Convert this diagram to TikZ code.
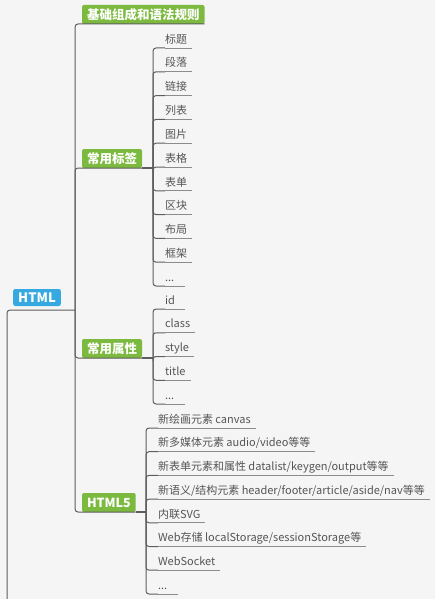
\documentclass[tikz,border=0pt]{standalone}
\usepackage{fontspec}
\setmainfont{Noto Sans CJK SC}
\usetikzlibrary{positioning}

\definecolor{mapbg}{HTML}{F5F5F5}
\definecolor{topicgreen}{HTML}{7CBA3F}
\definecolor{rootblue}{HTML}{36A9E1}
\definecolor{leaftext}{HTML}{555555}
\definecolor{branchgray}{HTML}{5E5E5E}
\definecolor{leafline}{HTML}{8C8C8C}

\tikzset{
  root/.style={fill=rootblue, text=white, font=\bfseries\fontsize{13}{13}\selectfont,
    rounded corners=2pt, inner xsep=5pt, inner ysep=0pt, minimum height=17pt,
    outer xsep=0pt, outer ysep=4pt, anchor=south},
  topic/.style={fill=topicgreen, text=white, font=\bfseries\fontsize{12.5}{12.5}\selectfont,
    rounded corners=2pt, inner xsep=5pt, inner ysep=0pt, minimum height=19pt,
    outer sep=0pt, anchor=south west},
  leaf/.style={text=leaftext, font=\fontsize{11}{11}\selectfont, inner xsep=0pt,
    inner ysep=1.8pt, text height=8pt, text depth=3pt, outer sep=0pt, anchor=south west},
  short/.style={text width=15pt, align=left},
  branch/.style={draw=branchgray, line width=1pt, rounded corners=3pt},
  twig/.style={draw=leafline, line width=0.8pt},
}

\begin{document}
\begin{tikzpicture}[x=1pt,y=-1pt]
  \path[use as bounding box, fill=mapbg] (0,0) rectangle (435,599);

  % root and main topics
  \node[root] (html) at (37,310) {HTML};
  \node[topic] (basic) at (82,24) {基础组成和语法规则};
  \node[topic] (tags) at (82,168) {常用标签};
  \node[topic] (attrs) at (82,358) {常用属性};
  \node[topic] (html5) at (82,512) {HTML5};

  \coordinate (rootin) at (7,599);
  \coordinate (htmlj) at (75,310);
  \coordinate (tagsj) at (153,168);
  \coordinate (attrsj) at (153,358);
  \coordinate (html5j) at (146,512);

  \draw[branch] (rootin) |- (html.south east) -- (htmlj);
  \foreach \t in {basic,tags,attrs,html5}
    \draw[branch] (htmlj) |- (\t.south east);
  \draw[branch, line width=1.6pt] (tags.south east) -- (tagsj);
  \draw[branch, line width=1.6pt] (attrs.south east) -- (attrsj);
  \draw[branch, line width=1.6pt] (html5.south east) -- (html5j);

  % common tags
  \foreach \t [count=\i from 0] in {标题,段落,链接,列表,图片,表格,表单,区块,布局,框架}
  {
    \node[leaf] (tag\i) at (165,48+23.8*\i) {\t};
    \draw[branch] (tagsj) |- (tag\i.south west);
    \draw[twig] (tag\i.south west) -- ([xshift=5pt]tag\i.south east);
  }
  \node[leaf, short] (tag10) at (165,286) {...};
  \draw[branch] (tagsj) |- (tag10.south west);
  \draw[twig] (tag10.south west) -- ([xshift=5pt]tag10.south east);

  % common attributes
  \node[leaf, short] (attr0) at (165,309) {id};
  \foreach \t [count=\i] in {class,style,title}
    \node[leaf] (attr\i) at (165,309+23.75*\i) {\t};
  \node[leaf, short] (attr4) at (165,404) {...};
  \foreach \i in {0,...,4}
  {
    \draw[branch] (attrsj) |- (attr\i.south west);
    \draw[twig] (attr\i.south west) -- ([xshift=5pt]attr\i.south east);
  }

  % html5
  \foreach \t [count=\i from 0] in {新绘画元素 canvas,新多媒体元素 audio/video等等,
      新表单元素和属性 datalist/keygen/output等等,
      新语义/结构元素 header/footer/article/aside/nav等等,内联SVG,
      Web存储 localStorage/sessionStorage等,WebSocket}
    \node[leaf] (new\i) at (158,428+23.7*\i) {\t};
  \node[leaf, short] (new7) at (158,594) {...};
  \foreach \i in {0,...,7}
  {
    \draw[branch] (html5j) |- (new\i.south west);
    \draw[twig] (new\i.south west) -- ([xshift=5pt]new\i.south east);
  }
\end{tikzpicture}
\end{document}
